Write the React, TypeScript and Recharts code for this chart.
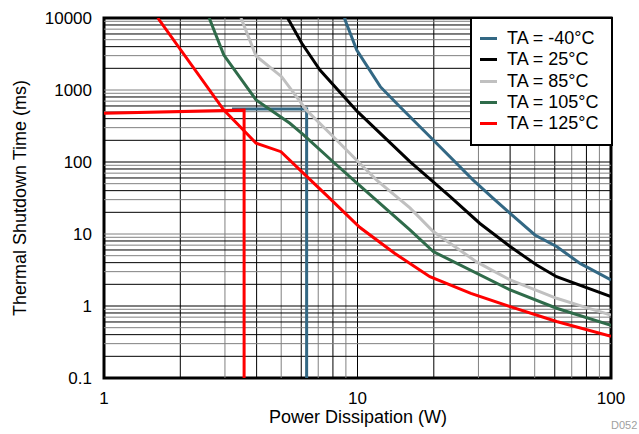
import React from 'react';
import { LineChart, Line, XAxis, YAxis, ReferenceLine, ReferenceArea } from 'recharts';

// axis ticks
const xTicks = [1, 10, 100];
const yTicks = [0.1, 1, 10, 100, 1000, 10000];
const minorSteps = [2, 3, 4, 5, 6, 7, 8, 9];

// TA = -40°C
const powerM40 = [8.87, 9.93, 12.3, 14.7, 19.9, 28.6, 34.3, 40, 50.1, 61, 75.5, 100];
const timeM40 = [10000, 3594, 1112, 586, 202, 56, 31.3, 19.4, 9.7, 6.7, 3.9, 2.3];
const stepPowerM40 = [3.2, 6.3, 6.3];
const stepTimeM40 = [545, 545, 0.1];

// TA = 25°C
const power25 = [5.3, 6.03, 7.11, 10, 16.1, 19.9, 23.2, 30.4, 40, 50.9, 61, 100];
const time25 = [10000, 4450, 1897, 500, 101, 53, 33, 14, 6.7, 3.7, 2.55, 1.35];

// TA = 85°C
const power85 = [3.47, 3.98, 5.02, 6.29, 8.03, 10.2, 11.9, 16.1, 19.9, 29.5, 40, 61, 77.8, 100];
const time85 = [10000, 2965, 1530, 525, 224, 96, 56, 23, 10.8, 4.1, 2.3, 1.28, 0.98, 0.75];

// TA = 105°C
const power105 = [2.6, 2.97, 3.98, 5.41, 6.11, 8.03, 10, 16.1, 19.9, 40, 61, 100];
const time105 = [10000, 3060, 726, 345, 240, 100, 50, 11.4, 5.7, 1.67, 0.93, 0.54];

// TA = 125°C
const power125 = [1.63, 2.97, 3.6, 3.98, 4.99, 6.11, 7.79, 10.2, 14, 19.3, 28, 40, 61, 100];
const time125 = [10000, 525, 263, 182, 139, 70, 31, 12.4, 5.4, 2.55, 1.5, 0.98, 0.61, 0.38];
const stepPower125 = [1, 3.57, 3.57];
const stepTime125 = [475, 525, 0.1];

const toPoints = (xs: number[], ys: number[]) => xs.map((x, i) => ({ x, y: ys[i] }));

const series = [
  { name: 'TA = -40°C', color: '#336884', data: toPoints(powerM40, timeM40) },
  { name: 'TA = 25°C', color: '#000000', data: toPoints(power25, time25) },
  { name: 'TA = 85°C', color: '#c0c0c0', data: toPoints(power85, time85) },
  { name: 'TA = 105°C', color: '#2f6b4a', data: toPoints(power105, time105) },
  { name: 'TA = 125°C', color: '#ff0000', data: toPoints(power125, time125) },
];

const steps = [
  { color: '#336884', data: toPoints(stepPowerM40, stepTimeM40) },
  { color: '#ff0000', data: toPoints(stepPower125, stepTime125) },
];

const gridX = [...xTicks.slice(0, -1).flatMap((d) => minorSteps.map((m) => m * d)), 10];
const gridY = [
  ...yTicks.slice(0, -1).flatMap((d) => minorSteps.map((m) => m * d)),
  1, 10, 100, 1000,
];

const font = '"Liberation Sans", Arial, Helvetica, sans-serif';

export default function App() {
  return (
    <div style={{ position: 'absolute', left: 0, top: 0, width: 639, height: 434, background: '#fff', fontFamily: font }}>
      <LineChart width={639} height={434} margin={{ top: 18, right: 28, left: 34, bottom: 26 }}>
        <XAxis
          dataKey="x"
          type="number"
          scale="log"
          domain={[1, 100]}
          ticks={xTicks}
          allowDataOverflow
          tickLine={false}
          tickSize={0}
          tickMargin={14}
          axisLine={false}
          height={30}
          tick={{ fill: '#000', fontSize: 17, fontFamily: font }}
          label={{
            content: () => (
              <text x={358} y={423} textAnchor="middle" fontSize={18} fontFamily={font} fill="#000">
                Power Dissipation (W)
              </text>
            ),
          }}
        />
        <YAxis
          dataKey="y"
          type="number"
          scale="log"
          domain={[0.1, 10000]}
          ticks={yTicks}
          allowDataOverflow
          tickLine={false}
          tickSize={0}
          tickMargin={12}
          axisLine={false}
          width={70}
          tick={{ fill: '#000', fontSize: 17, fontFamily: font }}
          label={{
            content: () => (
              <text
                x={26}
                y={198}
                transform="rotate(-90 26 198)"
                textAnchor="middle"
                fontSize={18}
                fontFamily={font}
                fill="#000"
              >
                Thermal Shutdown Time (ms)
              </text>
            ),
          }}
        />
        {gridX.map((v, i) => (
          <ReferenceLine key={`gx-${i}`} x={v} stroke={i % 2 === 0 ? '#000' : '#808080'} strokeWidth={1} />
        ))}
        {gridY.map((v, i) => (
          <ReferenceLine key={`gy-${i}`} y={v} stroke={i % 2 === 0 ? '#000' : '#808080'} strokeWidth={1} />
        ))}
        {steps.map((s, i) => (
          <Line
            key={`step-${i}`}
            data={s.data}
            dataKey="y"
            type="linear"
            stroke={s.color}
            strokeWidth={3}
            dot={false}
            isAnimationActive={false}
          />
        ))}
        {series.map((s) => (
          <Line
            key={s.name}
            name={s.name}
            data={s.data}
            dataKey="y"
            type="linear"
            stroke={s.color}
            strokeWidth={3}
            dot={false}
            isAnimationActive={false}
          />
        ))}
        <ReferenceArea x1={1} x2={100} y1={0.1} y2={10000} fill="none" stroke="#000" strokeWidth={3} />
      </LineChart>
      <div
        style={{
          position: 'absolute',
          left: 470,
          top: 17,
          width: 143,
          height: 129,
          boxSizing: 'border-box',
          border: '2px solid #000',
          background: '#fff',
          paddingTop: 9,
        }}
      >
        {series.map((s) => (
          <div key={s.name} style={{ position: 'relative', height: 21.3, fontSize: 18, lineHeight: '21.3px' }}>
            <span
              style={{
                position: 'absolute',
                left: 8,
                top: 9,
                width: 17,
                height: 3,
                background: s.color,
              }}
            />
            <span style={{ position: 'absolute', left: 35, top: 0, whiteSpace: 'nowrap' }}>{s.name}</span>
          </div>
        ))}
      </div>
      <div style={{ position: 'absolute', left: 611, top: 419, fontSize: 11, color: '#a0a0a0' }}>D052</div>
    </div>
  );
}
